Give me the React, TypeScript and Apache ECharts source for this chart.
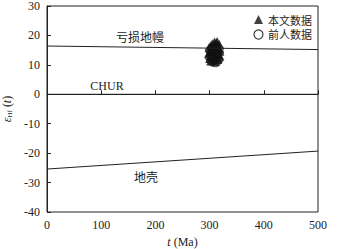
import React, { useEffect, useRef } from "react";
import * as echarts from "echarts";

const xTicks = [0, 100, 200, 300, 400, 500];
const yTicks = [-40, -30, -20, -10, 0, 10, 20, 30];
const depletedMantle = [[0, 16.4], [500, 15.2]];
const chur = [[0, 0], [500, 0]];
const crust = [[0, -25.4], [500, -19.3]];
const thisStudy = [
  [302, 16.5], [305, 17.2], [308, 16.8], [312, 17.5], [316, 16.2], [302, 15.4], [306, 15.8],
  [310, 15.1], [314, 15.6], [318, 16.9], [300, 14.2], [304, 14.8], [307, 14.0], [311, 14.5],
  [316, 14.9], [301, 13.1], [305, 13.6], [309, 13.2], [313, 13.9], [317, 13.5], [300, 12.2],
  [304, 12.7], [308, 12.0], [312, 12.6], [316, 12.3], [302, 11.3], [307, 11.6], [311, 11.1], [315, 11.8],
  [319, 14.6], [299, 15.8], [314, 17.9], [309, 17.8], [318, 15.6], [299, 13.8], [319, 12.9],
];
const previous = [
  [299, 15.0], [303, 16.0], [306, 14.5], [309, 13.8], [313, 12.9], [305, 12.4], [308, 10.6],
  [312, 10.5], [315, 11.0], [301, 13.7], [319, 14.2], [319, 15.5], [318, 11.8], [304, 10.8], [309, 16.3],
  [298, 12.6], [301, 11.4],
];
const labels = [
  { text: "亏损地幔", x: 140, y: 36 },
  { text: "CHUR", x: 107, y: 86 },
  { text: "地壳", x: 146, y: 176 },
];

const serif = "'Liberation Serif', 'DejaVu Serif', serif";
const cjk = "'Noto Sans CJK SC'";

export default function App() {
  const ref = useRef<HTMLDivElement>(null);
  useEffect(() => {
    const chart = echarts.init(ref.current!, null, { renderer: "svg" });
    chart.setOption({
      animation: false,
      backgroundColor: "#fff",
      grid: {
        left: 47, right: 21, top: 6, bottom: 37, show: true, borderColor: "#222", borderWidth: 1,
        containLabel: false, outerBoundsMode: "none",
      },
      xAxis: {
        type: "value", min: 0, max: 500, interval: 100,
        axisLine: { lineStyle: { color: "#222" } },
        axisTick: { inside: true, length: 4, lineStyle: { color: "#222" } },
        axisLabel: { color: "#222", fontFamily: serif, fontSize: 12, margin: 7 },
        splitLine: { show: false },
        name: "{i|t} (Ma)", nameLocation: "middle", nameGap: 23,
        nameTextStyle: {
          color: "#222", fontFamily: serif, fontSize: 12,
          rich: { i: { fontStyle: "italic", fontFamily: serif, fontSize: 12, color: "#222" } },
        },
      },
      yAxis: {
        type: "value", min: -40, max: 30, interval: 10,
        axisLine: { lineStyle: { color: "#222" } },
        axisTick: { inside: true, length: 4, lineStyle: { color: "#222" } },
        axisLabel: { color: "#222", fontFamily: serif, fontSize: 12, margin: 7 },
        splitLine: { show: false },
        name: "{e|ε}{s|Hf} ({i|t})", nameLocation: "middle", nameGap: 27, nameRotate: 90,
        nameTextStyle: {
          color: "#222", fontFamily: serif, fontSize: 12,
          rich: {
            e: { fontStyle: "italic", fontFamily: serif, fontSize: 12, color: "#222" },
            s: { fontFamily: serif, fontSize: 7, color: "#222", verticalAlign: "bottom", padding: [6, 0, 0, 0] },
            i: { fontStyle: "italic", fontFamily: serif, fontSize: 12, color: "#222" },
          },
        },
      },
      legend: {
        orient: "vertical", right: 22, top: 9, itemGap: 4, itemWidth: 9, itemHeight: 9,
        textStyle: { fontFamily: cjk, fontSize: 11, color: "#222" },
        data: [
          { name: "本文数据", icon: "triangle", itemStyle: { color: "#111" } },
          { name: "前人数据", icon: "circle", itemStyle: { color: "#fff", borderColor: "#111", borderWidth: 1.2 } },
        ],
      },
      series: [
        { type: "line", data: depletedMantle, symbol: "none", lineStyle: { color: "#222", width: 1 }, silent: true },
        { type: "line", data: chur, symbol: "none", lineStyle: { color: "#222", width: 1 }, silent: true },
        { type: "line", data: crust, symbol: "none", lineStyle: { color: "#222", width: 1 }, silent: true },
        {
          name: "前人数据", type: "scatter", data: previous, symbol: "circle", symbolSize: 7,
          itemStyle: { color: "#fff", borderColor: "#111", borderWidth: 1 },
        },
        {
          name: "本文数据", type: "scatter", data: thisStudy, symbol: "triangle", symbolSize: 9,
          itemStyle: { color: "#111" },
        },
      ],
      graphic: labels.map((l) => ({
        type: "text", x: l.x, y: l.y,
        style: {
          text: l.text, fill: "#222", align: "center", verticalAlign: "middle",
          font: `12px ${l.text === "CHUR" ? serif : cjk}`,
        },
      })),
    });
    return () => chart.dispose();
  }, []);
  return <div ref={ref} style={{ width: 339, height: 249, position: "absolute", left: 0, top: 0 }} />;
}
